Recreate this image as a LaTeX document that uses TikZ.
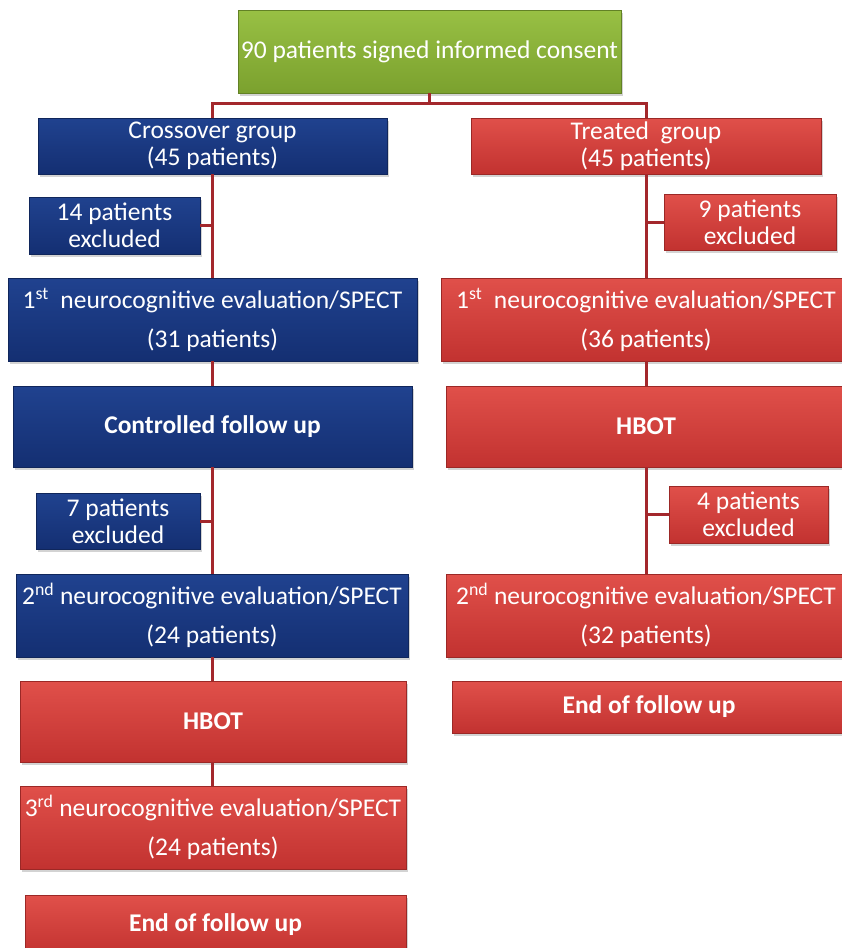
\documentclass[tikz,border=0pt]{standalone}
\usepackage{fontspec}
\setmainfont{Carlito}
\usetikzlibrary{shadows}
\definecolor{gA}{HTML}{98C044}
\definecolor{gB}{HTML}{7BA12E}
\definecolor{bA}{HTML}{20428F}
\definecolor{bB}{HTML}{142F72}
\definecolor{rA}{HTML}{E0504A}
\definecolor{rB}{HTML}{C23230}
\definecolor{lnk}{HTML}{A3282C}
\tikzset{
  box/.style={rectangle, inner sep=0pt, align=center, text=white,
    font=\fontsize{25.5}{27}\selectfont, drop shadow={shadow xshift=2pt, shadow yshift=-3pt, opacity=0.35}},
  greenbox/.style={box, top color=gA, bottom color=gB, draw=gB!80!black, line width=0.6pt},
  bluebox/.style={box, top color=bA, bottom color=bB, draw=bB!80!black, line width=0.6pt},
  redbox/.style={box, top color=rA, bottom color=rB, draw=rB!80!black, line width=0.6pt},
  link/.style={draw=lnk, line width=3pt},
  evalfont/.style={font=\fontsize{25.5}{39}\selectfont},
  boldfont/.style={font=\fontsize{25.5}{27}\selectfont\bfseries},
}
\begin{document}
\begin{tikzpicture}[x=1pt,y=-1pt]
\useasboundingbox (0,0) rectangle (841,948);
% top
\node[greenbox, minimum width=383pt, minimum height=83pt] (top) at (429.5,51.5) {90 patients signed informed consent};
\node[bluebox, minimum width=349pt, minimum height=56pt] (cross) at (212.5,146) {Crossover group\\(45 patients)};
\node[redbox, minimum width=350pt, minimum height=56pt] (treat) at (646,146) {Treated~ group\\(45 patients)};
% left column
\node[bluebox, minimum width=171pt, minimum height=57pt] (ex14) at (114.5,225.5) {14 patients\\excluded};
\node[bluebox, evalfont, minimum width=409pt, minimum height=83pt] (evA1) at (212.5,319.5) {1\textsuperscript{st}~ neurocognitive evaluation/SPECT\\(31 patients)};
\node[bluebox, boldfont, minimum width=399pt, minimum height=81pt] (ctrl) at (212.5,426.5) {Controlled follow up};
\node[bluebox, minimum width=164pt, minimum height=56pt] (ex7) at (118,521) {7 patients\\excluded};
\node[bluebox, evalfont, minimum width=392pt, minimum height=83pt] (evA2) at (212,615.5) {2\textsuperscript{nd} neurocognitive evaluation/SPECT\\(24 patients)};
\node[redbox, boldfont, minimum width=386pt, minimum height=81pt] (hbA) at (213,721.5) {HBOT};
\node[redbox, evalfont, minimum width=386pt, minimum height=83pt] (evA3) at (213,827.5) {3\textsuperscript{rd} neurocognitive evaluation/SPECT\\(24 patients)};
\node[redbox, boldfont, minimum width=381pt, minimum height=60pt] (endA) at (215.5,925) {End of follow up};
% right column
\node[redbox, minimum width=172pt, minimum height=56pt] (ex9) at (750,222) {9 patients\\excluded};
\node[redbox, evalfont, minimum width=410pt, minimum height=83pt] (evB1) at (646,319.5) {1\textsuperscript{st}~ neurocognitive evaluation/SPECT\\(36 patients)};
\node[redbox, boldfont, minimum width=400pt, minimum height=81pt] (hbB) at (646,426.5) {HBOT};
\node[redbox, minimum width=159pt, minimum height=57pt] (ex4) at (748.5,514.5) {4 patients\\excluded};
\node[redbox, evalfont, minimum width=400pt, minimum height=83pt] (evB2) at (646,615.5) {2\textsuperscript{nd} neurocognitive evaluation/SPECT\\(32 patients)};
\node[redbox, boldfont, minimum width=394pt, minimum height=52pt] (endB) at (649,707) {End of follow up};
% connectors
\coordinate (split) at (429.5,103);
\draw[link] (top.south) -- (split);
\draw[link] (split) -| (cross.north);
\draw[link] (split) -| (treat.north);
\draw[link] (cross.south) -- (evA1.north);
\draw[link] (ex14.east) -- (ex14.east -| cross.south);
\draw[link] (evA1.south) -- (ctrl.north);
\draw[link] (ctrl.south) -- (evA2.north -| ctrl.south);
\draw[link] (ex7.east) -- (ex7.east -| ctrl.south);
\draw[link] (evA2.south -| ctrl.south) -- (hbA.north -| ctrl.south);
\draw[link] (hbA.south -| ctrl.south) -- (evA3.north -| ctrl.south);
\draw[link] (treat.south) -- (evB1.north);
\draw[link] (ex9.west) -- (ex9.west -| treat.south);
\draw[link] (evB1.south) -- (hbB.north);
\draw[link] (hbB.south) -- (evB2.north);
\draw[link] (ex4.west) -- (ex4.west -| hbB.south);
\end{tikzpicture}
\end{document}
